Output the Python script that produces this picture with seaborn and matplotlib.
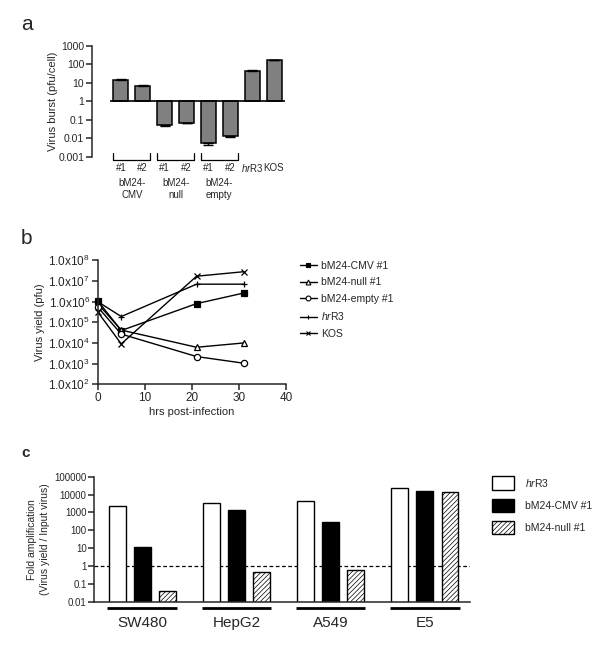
import numpy as np
import pandas as pd
import matplotlib.pyplot as plt
import seaborn as sns
from matplotlib.patches import Patch
from matplotlib.lines import Line2D

sns.set_style("ticks")
plt.rcParams['font.family'] = ['Liberation Sans', 'DejaVu Sans']
plt.rcParams['mathtext.fontset'] = 'custom'
plt.rcParams['mathtext.rm'] = 'Liberation Sans'
plt.rcParams['mathtext.it'] = 'Liberation Sans:italic'
plt.rcParams['hatch.linewidth'] = 0.5

# panel a: virus burst
burst_labels = ['#1', '#2', '#1', '#2', '#1', '#2', r'$\it{hr}$R3', 'KOS']
burst_values = [15, 7, 0.055, 0.07, 0.0058, 0.014, 45, 160]
burst_err = [1.5, 0.4, 0.01, 0.004, 0.0015, 0.0015, 2, 10]
burst_groups = ['bM24-\nCMV', 'bM24-\nnull', 'bM24-\nempty']

# panel b: time course
hours = [0, 5, 21, 31]
yield_series = {
    'bM24-CMV #1': [1.1e6, 4e4, 8e5, 2.6e6],
    'bM24-null #1': [8e5, 4.2e4, 6.2e3, 1.0e4],
    'bM24-empty #1': [5.5e5, 2.7e4, 2.2e3, 1.05e3],
    r'$\it{hr}$R3': [1.0e6, 1.9e5, 7e6, 7e6],
    'KOS': [3.2e5, 9e3, 1.7e7, 2.8e7],
}
markers = ['s', '^', 'o', '+', 'x']
marker_fill = ['black', 'white', 'white', 'black', 'black']

# panel c: fold amplification
cells = ['SW480', 'HepG2', 'A549', 'E5']
viruses = [r'$\it{hr}$R3', 'bM24-CMV #1', 'bM24-null #1']
fold_hrR3 = [2300, 3400, 4500, 24000]
fold_cmv = [11, 1400, 300, 16700]
fold_null = [0.042, 0.46, 0.57, 13800]

W, H = 600, 646
fig = plt.figure(figsize=(6, 6.46), dpi=100)

def fbox(x0, x1, ytop, ybot):
    return [x0 / W, 1 - ybot / H, (x1 - x0) / W, (ybot - ytop) / H]

# ---------- panel a ----------
ax1 = fig.add_axes(fbox(110, 285, 45.7, 157))
ax1.set_yscale('log')
x = np.arange(len(burst_values))
vals = np.array(burst_values)
ax1.bar(x, vals - 1, bottom=1, width=0.68, color='#808080', edgecolor='black', linewidth=1.1, zorder=2)
lower = [e if v < 1 else 0 for v, e in zip(burst_values, burst_err)]
upper = [e if v >= 1 else 0 for v, e in zip(burst_values, burst_err)]
ax1.errorbar(x, vals, yerr=[lower, upper], fmt='none', ecolor='black', elinewidth=1, capsize=3.5, zorder=3)
ax1.axhline(1, color='black', lw=1.2, zorder=4)
ax1.set_ylim(0.001, 1000)
ax1.set_xlim(-0.5, 7.5)
ax1.set_yticks([0.001, 0.01, 0.1, 1, 10, 100, 1000])
ax1.set_yticklabels(['0.001', '0.01', '0.1', '1', '10', '100', '1000'])
ax1.yaxis.set_minor_locator(plt.NullLocator())
ax1.set_xticks([])
for s in ['top', 'right', 'bottom']:
    ax1.spines[s].set_visible(False)
ax1.spines['left'].set_position(('outward', 13))
ax1.spines['left'].set_linewidth(1.1)
ax1.tick_params(axis='y', labelsize=7.5, length=4, width=1.1, pad=1.5)
ax1.set_ylabel('Virus burst (pfu/cell)', fontsize=8, labelpad=0)
tr = ax1.get_xaxis_transform()
for i, xi in enumerate(x):
    ax1.text(xi, -0.1, burst_labels[i], transform=tr, ha='center', va='center', fontsize=7)
for g, name in enumerate(burst_groups):
    a, b = 2 * g - 0.34, 2 * g + 1 + 0.34
    ax1.plot([a, a, b, b], [0.035, -0.027, -0.027, 0.035], color='black', lw=0.9,
             transform=tr, clip_on=False)
    ax1.text(2 * g + 0.5, -0.29, name, transform=tr, ha='center', va='center',
             fontsize=7, linespacing=1.3)

# ---------- panel b ----------
ax2 = fig.add_axes(fbox(97.7, 286, 260.3, 384.3))
rows = []
for name, ys in yield_series.items():
    for t, v in zip(hours, ys):
        rows.append({'series': name, 'hrs': t, 'pfu': v})
df_b = pd.DataFrame(rows)
handles = []
for i, name in enumerate(yield_series):
    sub = df_b[df_b['series'] == name]
    sns.lineplot(data=sub, x='hrs', y='pfu', ax=ax2, color='black', lw=1, marker=markers[i],
                 markersize=4.5, markerfacecolor=marker_fill[i], markeredgecolor='black',
                 markeredgewidth=0.9, clip_on=False)
    handles.append(Line2D([], [], color='black', lw=1, marker=markers[i], markersize=3.5,
                          markerfacecolor=marker_fill[i], markeredgecolor='black', markeredgewidth=0.8))
ax2.set_yscale('log')
ax2.set_ylim(1e2, 1e8)
ax2.set_xlim(0, 40)
ax2.set_yticks([10.0 ** k for k in range(2, 9)])
ax2.set_yticklabels([r'1.0x10$^{%d}$' % k for k in range(2, 9)])
ax2.yaxis.set_minor_locator(plt.NullLocator())
ax2.set_xticks([0, 10, 20, 30, 40])
for s in ['top', 'right']:
    ax2.spines[s].set_visible(False)
for s in ['left', 'bottom']:
    ax2.spines[s].set_linewidth(1.1)
ax2.tick_params(labelsize=8.5, length=4, width=1.1, pad=1.5)
ax2.set_xlabel('hrs post-infection', fontsize=8, labelpad=2)
ax2.set_ylabel('Virus yield (pfu)', fontsize=8, labelpad=2)
fig.legend(handles, list(yield_series.keys()), loc='upper left',
           bbox_to_anchor=(300 / W, 1 - 261 / H), frameon=False, fontsize=7.5,
           handlelength=1.6, handletextpad=0.45, labelspacing=0.62, borderpad=0, borderaxespad=0)

# ---------- panel c ----------
ax3 = fig.add_axes(fbox(94.3, 470, 476.7, 601.7))
df_c = pd.DataFrame({
    'cell': cells * 3,
    'virus': [viruses[0]] * 4 + [viruses[1]] * 4 + [viruses[2]] * 4,
    'fold': fold_hrR3 + fold_cmv + fold_null,
})
ax3.set_yscale('log')
sns.barplot(data=df_c, x='cell', y='fold', hue='virus', hue_order=viruses, order=cells,
            palette=['white', 'black', 'white'], edgecolor='black', linewidth=1,
            gap=0.33, errorbar=None, legend=False, ax=ax3)
for bar in ax3.containers[2]:
    bar.set_hatch('///////')
ax3.axhline(1, color='black', lw=0.9, ls=(0, (3, 2)), zorder=0)
ax3.set_ylim(0.01, 1e5)
ax3.set_xlim(-0.51, 3.48)
ax3.set_yticks([0.01, 0.1, 1, 10, 100, 1000, 10000, 100000])
ax3.set_yticklabels(['0.01', '0.1', '1', '10', '100', '1000', '10000', '100000'])
ax3.yaxis.set_minor_locator(plt.NullLocator())
ax3.set_xticks([])
ax3.set_xlabel('')
for s in ['top', 'right']:
    ax3.spines[s].set_visible(False)
for s in ['left', 'bottom']:
    ax3.spines[s].set_linewidth(1.1)
ax3.tick_params(axis='y', labelsize=7, length=4, width=1.1, pad=1.5)
ax3.set_ylabel('Fold amplification\n(Virus yield / Input virus)', fontsize=7.5, labelpad=3, linespacing=1.4)
tr3 = ax3.get_xaxis_transform()
for g, name in enumerate(cells):
    ax3.plot([g - 0.37, g + 0.37], [-0.053, -0.053], color='black', lw=2, transform=tr3,
             clip_on=False, solid_capstyle='butt')
    ax3.text(g, -0.17, name, transform=tr3, ha='center', va='center', fontsize=11)
leg_handles = [Patch(facecolor='white', edgecolor='black', lw=1),
               Patch(facecolor='black', edgecolor='black', lw=1),
               Patch(facecolor='white', edgecolor='black', lw=1, hatch='///////')]
fig.legend(leg_handles, viruses, loc='upper left', bbox_to_anchor=(491.7 / W, 1 - 476.5 / H),
           frameon=False, fontsize=7.5, handlelength=2.1, handleheight=1.6,
           handletextpad=1.05, labelspacing=0.85, borderpad=0, borderaxespad=0)

# panel letters
fig.text(26.7 / W, 1 - 24 / H, 'a', fontsize=15, ha='center', va='center')
fig.text(26.7 / W, 1 - 238 / H, 'b', fontsize=15, ha='center', va='center')
fig.text(26 / W, 1 - 453 / H, 'c', fontsize=11, fontweight='bold', ha='center', va='center')

fig.savefig('out.png', dpi=100)
